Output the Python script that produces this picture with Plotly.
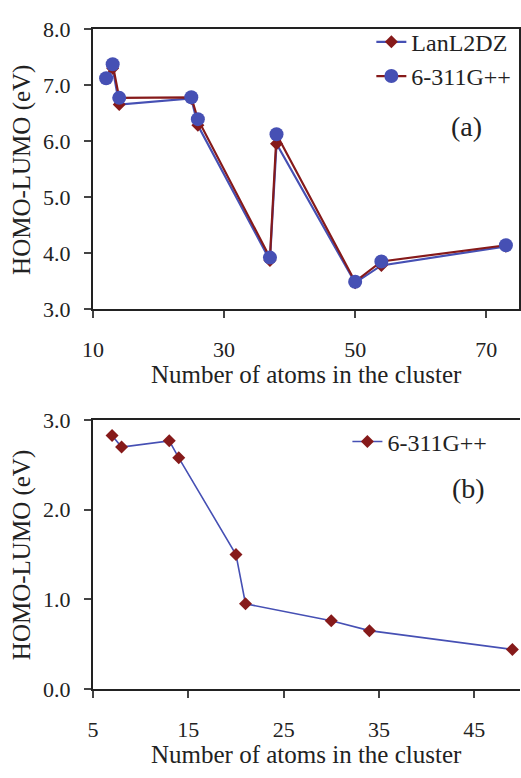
import plotly.graph_objects as go

# ---- data (a) ----
atoms_a = [12, 13, 14, 25, 26, 37, 38, 50, 54, 73]
lanl2dz = [7.12, 7.30, 6.65, 6.76, 6.28, 3.87, 5.95, 3.47, 3.78, 4.12]
g311_a = [7.12, 7.37, 6.77, 6.78, 6.39, 3.92, 6.12, 3.49, 3.85, 4.14]

# ---- data (b) ----
atoms_b = [7, 8, 13, 14, 20, 21, 30, 34, 49]
g311_b = [2.83, 2.70, 2.77, 2.58, 1.50, 0.95, 0.76, 0.65, 0.44]

x_ticks_a = [10, 30, 50, 70]
y_ticks_a = [3.0, 4.0, 5.0, 6.0, 7.0, 8.0]
x_ticks_b = [5, 15, 25, 35, 45]
y_ticks_b = [0.0, 1.0, 2.0, 3.0]

BLUE = "#4650B4"
RED = "#861A1A"
FONT = "Liberation Serif"
W, H = 521, 778
L = 93

def py(px):
    return 1 - px / H

def pxx(px):
    return (px - L) / (W - L)

fig = go.Figure()
fig.add_trace(go.Scatter(x=atoms_a, y=lanl2dz, name="LanL2DZ", mode="lines+markers",
                         line=dict(color=BLUE, width=2.2),
                         marker=dict(symbol="diamond", size=10, color=RED),
                         xaxis="x", yaxis="y", legend="legend"))
fig.add_trace(go.Scatter(x=atoms_a, y=g311_a, name="6-311G++", mode="lines+markers",
                         line=dict(color=RED, width=2.2),
                         marker=dict(symbol="circle", size=14, color=BLUE),
                         xaxis="x", yaxis="y", legend="legend"))
fig.add_trace(go.Scatter(x=atoms_b, y=g311_b, name="6-311G++", mode="lines+markers",
                         line=dict(color=BLUE, width=1.6),
                         marker=dict(symbol="diamond", size=10, color=RED),
                         xaxis="x2", yaxis="y2", legend="legend2"))

axis_common = dict(showline=True, linecolor="#222", linewidth=2, ticks="outside",
                   ticklen=7, tickcolor="#444", tickwidth=1.5, showgrid=False,
                   zeroline=False, tickfont=dict(family=FONT, size=22, color="#222"))

fig.update_layout(
    width=W, height=H,
    margin=dict(l=L, r=0, t=0, b=0),
    paper_bgcolor="white", plot_bgcolor="white",
    font=dict(family=FONT, color="#222"),
    xaxis=dict(domain=[0, 427 / 428], range=[10, 75], tickvals=x_ticks_a,
               mirror=True, anchor="y", ticklabelstandoff=12, **axis_common),
    yaxis=dict(domain=[py(307), py(17.5)], range=[3, 8], tickvals=y_ticks_a,
               tickformat=".1f", mirror=True, anchor="x", ticklabelstandoff=9,
               **axis_common),
    xaxis2=dict(domain=[0, 1], range=[5, 49.8], tickvals=x_ticks_b,
                mirror=True, anchor="y2", ticklabelstandoff=13, **axis_common),
    yaxis2=dict(domain=[py(699.3), py(421.8)], range=[0, 3], tickvals=y_ticks_b,
                tickformat=".1f", mirror=False, anchor="x2", ticklabelstandoff=9,
                **axis_common),
    legend=dict(x=pxx(372), y=py(8), xanchor="left", yanchor="top",
                bgcolor="rgba(0,0,0,0)", font=dict(family=FONT, size=24, color="#222"),
                itemwidth=30),
    legend2=dict(x=pxx(348), y=py(421), xanchor="left", yanchor="top",
                 bgcolor="rgba(0,0,0,0)", font=dict(family=FONT, size=24, color="#222"),
                 itemwidth=30),
    showlegend=True,
)

ann = [
    dict(text="(a)", x=pxx(467), y=py(118), size=28),
    dict(text="(b)", x=pxx(469), y=py(492), size=28),
    dict(text="Number of atoms in the cluster", x=pxx(307), y=py(375), size=25),
    dict(text="Number of atoms in the cluster", x=pxx(307), y=py(767), size=25),
]
for a in ann:
    fig.add_annotation(text=a["text"], x=a["x"], y=a["y"], xref="paper", yref="paper",
                       xanchor="center", yanchor="middle", showarrow=False,
                       font=dict(family=FONT, size=a["size"], color="#222"))
for yc in (163, 561):
    fig.add_annotation(text="HOMO-LUMO (eV)", x=pxx(22), y=py(yc), xref="paper",
                       yref="paper", xanchor="center", yanchor="middle", textangle=-90,
                       showarrow=False, font=dict(family=FONT, size=25, color="#222"))

fig.write_html("out.html")
